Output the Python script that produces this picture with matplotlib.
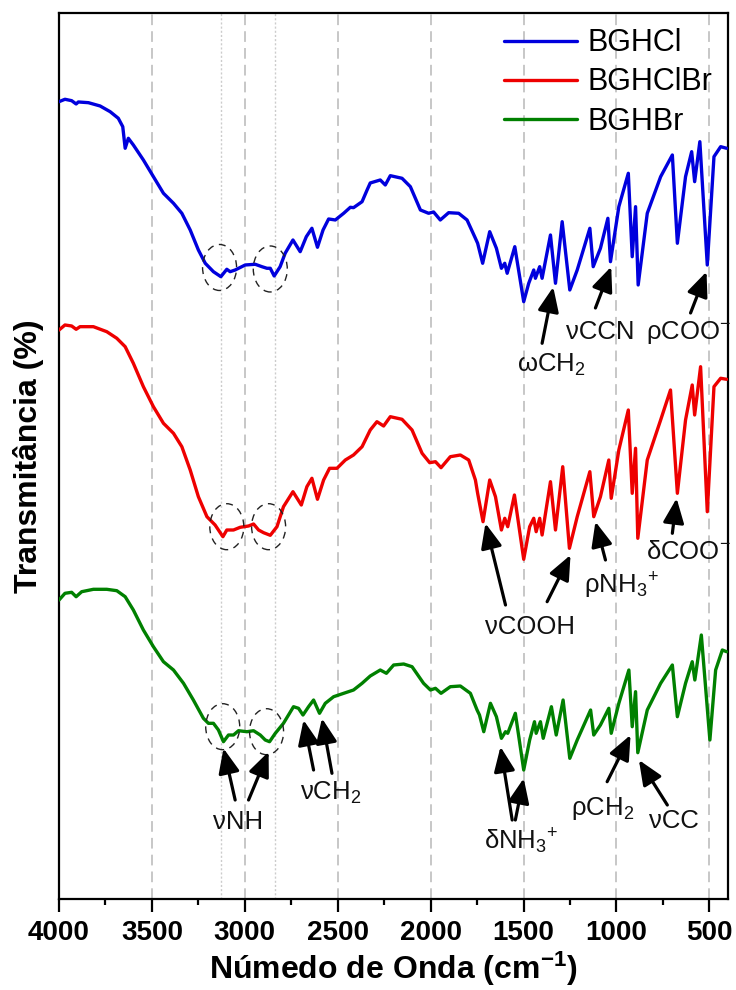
import matplotlib
matplotlib.use("Agg")
import matplotlib.pyplot as plt
from matplotlib.patches import Ellipse

plt.rcParams['font.family'] = ['Liberation Sans', 'DejaVu Sans']
plt.rcParams['mathtext.fontset'] = 'custom'
plt.rcParams['mathtext.rm'] = 'Liberation Sans'
plt.rcParams['mathtext.it'] = 'Liberation Sans:italic'
plt.rcParams['mathtext.bf'] = 'Liberation Sans:bold'

# FTIR spectra (wavenumber in cm-1, transmittance in arbitrary offset units)
wn_cl = [4000, 3968, 3932, 3908, 3896, 3842, 3779, 3725, 3681, 3657,
         3644, 3627, 3600, 3546, 3492, 3438, 3384, 3339, 3294, 3250,
         3213, 3169, 3129, 3097, 3079, 3052, 2998, 2944, 2908, 2881,
         2863, 2842, 2810, 2783, 2741, 2702, 2669, 2639, 2609, 2579,
         2549, 2513, 2468, 2432, 2415, 2369, 2342, 2325, 2271, 2244,
         2217, 2154, 2109, 2055, 2011, 1984, 1948, 1903, 1849, 1804,
         1759, 1747, 1720, 1682, 1646, 1619, 1601, 1588, 1547, 1499,
         1472, 1445, 1436, 1413, 1400, 1355, 1328, 1292, 1251, 1211,
         1143, 1125, 1086, 1046, 1032, 987, 936, 915, 897, 883,
         834, 762, 699, 672, 628, 595, 579, 551, 511, 475,
         439, 407]
t_cl = [797.3, 799.7, 798.3, 795, 797, 796.3, 793, 787.3, 780.7, 772.3,
        750.7, 760.7, 754, 739, 722.3, 705.7, 695.7, 685.7, 669, 649,
        635.7, 627.3, 622.3, 629.7, 627.3, 629, 634, 634.7, 632.3, 630.7,
        630.7, 623, 632.3, 645.7, 659, 647.3, 662.3, 670.7, 651.7, 669,
        680, 679, 685.7, 691.7, 691.3, 697.3, 709, 716, 719, 714,
        723.3, 720.7, 712.3, 689, 685.7, 687, 679, 686.3, 685.7, 679,
        660.7, 655.7, 635.7, 667.3, 650.7, 630.7, 635.7, 625.7, 652.3, 597.3,
        615.7, 629, 620.7, 632.3, 620.7, 664, 615.7, 677.3, 609, 629,
        670.7, 632.3, 650.7, 680.7, 637.3, 692.3, 725.7, 642.3, 692.3, 614,
        685.7, 722.3, 744, 655.7, 722.3, 747.3, 717.3, 757.3, 634, 742.3,
        752.3, 750.7]

wn_clbr = [4000, 3968, 3932, 3908, 3887, 3815, 3743, 3689, 3644, 3600,
           3546, 3492, 3438, 3384, 3339, 3294, 3250, 3204, 3160, 3118,
           3097, 3061, 3025, 2980, 2953, 2926, 2899, 2863, 2827, 2792,
           2741, 2696, 2666, 2639, 2609, 2576, 2544, 2504, 2459, 2415,
           2369, 2325, 2289, 2253, 2217, 2154, 2100, 2046, 2005, 1974,
           1944, 1894, 1840, 1795, 1759, 1747, 1718, 1682, 1651, 1619,
           1601, 1585, 1549, 1499, 1467, 1445, 1432, 1413, 1400, 1355,
           1328, 1289, 1253, 1211, 1143, 1122, 1086, 1041, 1028, 987,
           936, 915, 897, 885, 834, 762, 709, 672, 628, 592,
           579, 547, 511, 475, 439, 407]
t_clbr = [569, 574, 573, 569.7, 572.3, 572.3, 567.3, 560.7, 552.3, 535.7,
          512.3, 492.3, 475.7, 465.7, 452.3, 429, 402.3, 382.3, 374, 362.3,
          369, 369, 371.7, 373, 375, 369, 366.3, 363.7, 372.3, 392.3,
          407.3, 394, 412.3, 420.7, 399.7, 419, 430.7, 430.7, 439, 444,
          452.3, 469, 477.3, 473, 482.3, 479.7, 469, 445.7, 436.3, 437.3,
          431.3, 442.3, 444, 439, 419, 405.7, 377.3, 419, 402.3, 369,
          380.7, 372.3, 404, 339.7, 372.3, 380.7, 367.3, 380.7, 364, 417.3,
          369, 432.3, 350.7, 382.3, 427.3, 382.3, 402.3, 439, 400.7, 449,
          489, 405.7, 450.7, 360.7, 439, 479, 509, 405.7, 479, 514,
          484, 532.3, 387.3, 512.3, 520.7, 519.7]

wn_br = [4000, 3968, 3932, 3908, 3878, 3815, 3743, 3689, 3644, 3600,
         3546, 3492, 3438, 3384, 3330, 3277, 3223, 3196, 3169, 3142,
         3115, 3088, 3061, 3034, 2989, 2953, 2917, 2890, 2867, 2836,
         2792, 2738, 2711, 2687, 2657, 2630, 2598, 2567, 2522, 2468,
         2415, 2369, 2325, 2271, 2238, 2199, 2145, 2100, 2038, 2001,
         1974, 1944, 1894, 1840, 1786, 1750, 1737, 1714, 1678, 1646,
         1619, 1597, 1585, 1544, 1499, 1467, 1441, 1432, 1409, 1394,
         1350, 1324, 1287, 1251, 1211, 1139, 1122, 1086, 1041, 1028,
         987, 933, 915, 897, 885, 834, 762, 699, 672, 628,
         592, 578, 543, 497, 466, 430, 407]
t_br = [299, 305.7, 306.7, 302.3, 307.3, 309.7, 309.7, 308.3, 302.3, 289,
        269, 252.3, 237.3, 229, 215.7, 199, 180.7, 175.7, 175.7, 169,
        157.3, 164, 164, 168.3, 167.3, 168.3, 164, 159, 157.3, 165.7,
        175.7, 192.3, 190.7, 184, 192.3, 199, 185.7, 195.7, 202.3, 205.7,
        209, 215.7, 223, 229, 225.7, 234, 235, 232.3, 215.7, 209,
        210.7, 205.7, 212.3, 213, 205.7, 189, 184, 167.3, 195.7, 182.3,
        160.7, 167.3, 165.7, 185.7, 129, 159, 177.3, 165.7, 177.3, 160.7,
        192.3, 164, 199, 140.7, 159, 189, 164, 174, 190.7, 165.7,
        195.7, 229, 172.3, 207.3, 146.3, 189, 215.7, 234, 182.3, 215.7,
        237.3, 219, 264, 159, 229, 249, 247.3]

labels = ['BGHCl', 'BGHClBr', 'BGHBr']
colors = ['#0000dd', '#ee0000', '#008000']
nh_bands = [3130, 2840]

# circled NH bands: (wn, T) centres for each spectrum
circles = [(3136, 631.5), (2863, 630), (3097, 372.3), (2872, 372.3),
           (3119, 172.3), (2883, 167.3)]

# band assignments: text (x, y baseline) and arrows (tail -> tip)
notes = [
    ('ωCH$_2$', 1534, 527.3, [((1400, 555.7), (1340, 612))]),
    ('νCCN', 1274, 559.7, [((1113, 591), (1028, 632.3))]),
    ('ρCOO$^{-}$', 843, 559.7, [((601, 586), (515, 627.3))]),
    ('νCOOH', 1705, 265, [((1597, 294), (1705, 375.7)), ((1373, 297.3), (1247, 344))]),
    ('ρNH$_3$$^{+}$', 1176, 305.7, [((1059, 339), (1113, 377.3))]),
    ('δCOO$^{-}$', 843, 339.7, [((699, 365.7), (676, 400.7))]),
    ('νNH', 3169, 69.7, [((3052, 99), (3115, 150.7)), ((2980, 99), (2872, 147.3))]),
    ('νCH$_2$', 2702, 99, [((2630, 129), (2684, 179)), ((2531, 125.7), (2585, 180.7))]),
    ('δNH$_3$$^{+}$', 1714, 49.7, [((1561, 79), (1624, 152.3)), ((1544, 79), (1499, 120.7))]),
    ('ρCH$_2$', 1247, 84, [((1050, 117.3), (924, 164))]),
    ('νCC', 825, 70.7, [((726, 94), (879, 139))]),
]

fig = plt.figure(figsize=(7.36, 9.9), dpi=100)
ax = fig.add_axes([0.0802, 0.0919, 0.9088, 0.895])

for wn, t, lab, c in zip([wn_cl, wn_clbr, wn_br], [t_cl, t_clbr, t_br], labels, colors):
    ax.plot(wn, t, color=c, lw=2.4, label=lab, zorder=3,
            solid_joinstyle='round', solid_capstyle='round')

ax.set_xlim(4000, 400)
ax.set_ylim(0, 886)
ax.set_xticks([4000, 3500, 3000, 2500, 2000, 1500, 1000, 500])
ax.set_xticks([3750, 3250, 2750, 2250, 1750, 1250, 750], minor=True)
ax.set_yticks([])
ax.tick_params(axis='x', which='major', direction='out', length=9, width=1.6,
               labelsize=20, pad=6)
ax.tick_params(axis='x', which='minor', direction='out', length=4.5, width=1.6)
for lbl in ax.get_xticklabels():
    lbl.set_fontweight('bold')
for sp in ax.spines.values():
    sp.set_linewidth(1.6)

ax.grid(axis='x', which='major', color='#b8b8b8', lw=1.1, ls=(0, (7, 4)), zorder=0)
for b in nh_bands:
    ax.axvline(b, color='#cccccc', lw=1.0, ls=(0, (1.5, 1.5)), zorder=0)

for cx, cy in circles:
    ax.add_patch(Ellipse((cx, cy), 183, 46, fill=False, ec='#222222', lw=1.0,
                         ls=(0, (5, 4)), zorder=4))

for txt, tx, ty, arrows in notes:
    ax.text(tx, ty, txt, fontsize=18.5, ha='left', va='baseline', color='#111111', zorder=5)
    for tail, tip in arrows:
        ax.annotate('', xy=tip, xytext=tail,
                    arrowprops=dict(arrowstyle='-|>,head_length=0.75,head_width=0.32',
                                    lw=2.3, color='black', mutation_scale=20,
                                    shrinkA=0, shrinkB=0), zorder=5)

ax.set_xlabel('Númedo de Onda (cm$^{\\mathbf{-1}}$)', fontsize=23, fontweight='bold', labelpad=3)
ax.set_ylabel('Transmitância (%)', fontsize=23, fontweight='bold')
ax.yaxis.set_label_coords(-0.022, 0.5)

ax.legend(loc='upper right', frameon=False, fontsize=22, handlelength=2.4,
          handletextpad=0.35, labelspacing=0.3, borderaxespad=0.1, borderpad=0.4)

fig.savefig('out.png', dpi=100)
